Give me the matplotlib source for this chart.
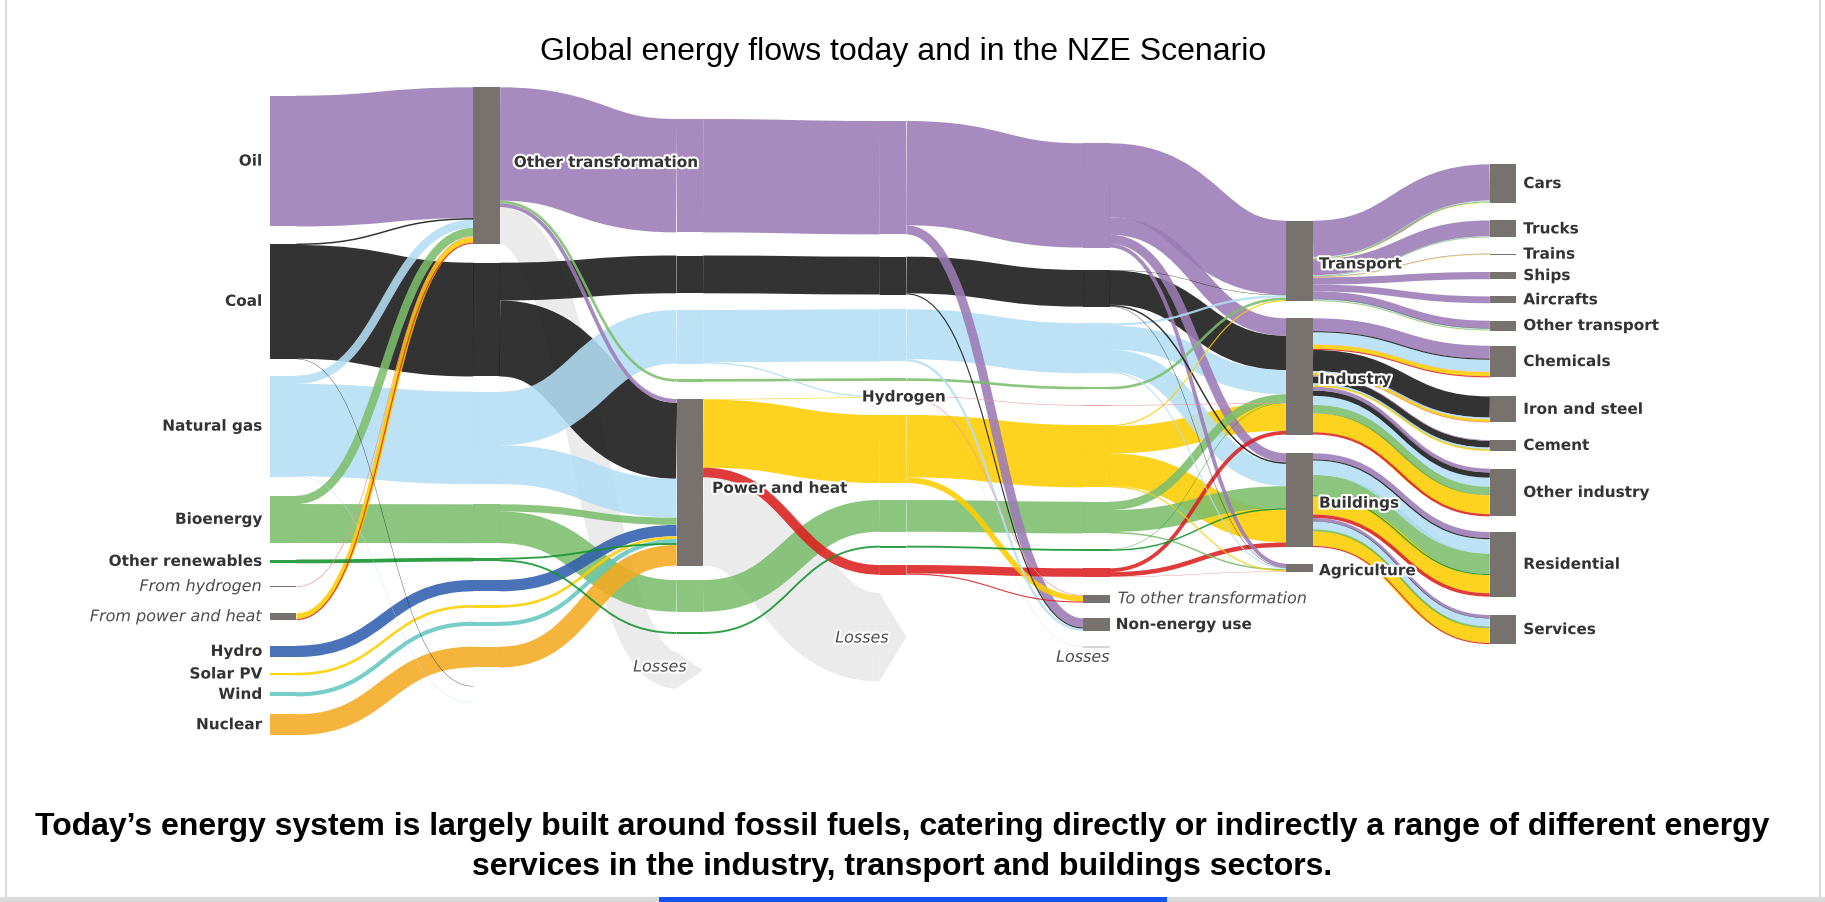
import matplotlib
matplotlib.use("Agg")
import matplotlib.pyplot as plt
import matplotlib.patheffects as pe
from matplotlib.colors import to_rgb
from matplotlib.path import Path
from matplotlib.patches import PathPatch, Rectangle, Polygon
from collections import defaultdict

# Energy flows in EJ: (source, target, value, carrier)
supply = [
    ("Oil", "Other transformation", 173, "oil"),
    ("Coal", "Other transformation", 2, "coal"),
    ("Coal", "coal|1", 150.5, "coal"),
    ("Coal", "coal own use|1", 0.5, "coal"),
    ("Natural gas", "Other transformation", 11, "gas"),
    ("Natural gas", "gas|1", 122.3, "gas"),
    ("Natural gas", "gas own use|1", 0.5, "gas"),
    ("Bioenergy", "Other transformation", 11, "bio"),
    ("Bioenergy", "bio|1", 51.5, "bio"),
    ("Other renewables", "ren|1", 5, "ren"),
    ("From hydrogen", "Other transformation", 1, "h2"),
    ("From power and heat", "Other transformation", 7.5, "elec"),
    ("From power and heat", "Other transformation", 1.5, "heat"),
    ("Hydro", "hydro|1", 15, "hydro"),
    ("Solar PV", "solar|1", 3.5, "solar"),
    ("Wind", "wind|1", 5.5, "wind"),
    ("Nuclear", "nuclear|1", 27.5, "nuclear"),
]

transformation = [
    ("Other transformation", "oil|2", 150, "oil"),
    ("Other transformation", "Power and heat", 5, "oil"),
    ("Other transformation", "biofuel|2", 3.5, "bio"),
    ("Other transformation", "loss OT|2", 48.5, "loss"),
    ("coal|1", "coal|2", 50, "coal"),
    ("coal|1", "Power and heat", 100.5, "coal"),
    ("gas|1", "gas|2", 70.8, "gas"),
    ("gas|1", "Power and heat", 51.5, "gas"),
    ("bio|1", "Power and heat", 9.5, "bio"),
    ("bio|1", "bio|2", 42, "bio"),
    ("ren|1", "Power and heat", 2.5, "ren"),
    ("ren|1", "ren|2", 2.5, "ren"),
    ("hydro|1", "Power and heat", 15, "hydro"),
    ("solar|1", "Power and heat", 3.5, "solar"),
    ("wind|1", "Power and heat", 5.5, "wind"),
    ("nuclear|1", "Power and heat", 27.5, "nuclear"),
]

power = [
    ("oil|2", "oil|3", 150, "oil"),
    ("coal|2", "coal|3", 50, "coal"),
    ("gas|2", "gas|3", 69, "gas"),
    ("gas|2", "Hydrogen", 1.8, "gas"),
    ("biofuel|2", "biofuel|3", 3.5, "bio"),
    ("Power and heat", "Hydrogen", 0.8, "elec"),
    ("Power and heat", "elec|3", 90, "elec"),
    ("Power and heat", "heat|3", 12.8, "heat"),
    ("Power and heat", "loss PH|3", 116.9, "loss"),
    ("bio|2", "bio|3", 42, "bio"),
    ("ren|2", "ren|3", 2.5, "ren"),
]

final_use = [
    ("oil|3", "oil|4", 138, "oil"),
    ("oil|3", "Non-energy use", 12, "oil"),
    ("coal|3", "coal|4", 48.5, "coal"),
    ("coal|3", "Non-energy use", 1.5, "coal"),
    ("gas|3", "gas|4", 66, "gas"),
    ("gas|3", "Non-energy use", 3, "gas"),
    ("biofuel|3", "biofuel|4", 3.5, "bio"),
    ("Hydrogen", "h2|4", 0.8, "h2"),
    ("Hydrogen", "To other transformation", 1, "h2"),
    ("Hydrogen", "Losses", 0.8, "loss"),
    ("elec|3", "elec|4", 82.5, "elec"),
    ("elec|3", "To other transformation", 7.5, "elec"),
    ("bio|3", "bio|4", 42, "bio"),
    ("ren|3", "ren|4", 2.5, "ren"),
    ("heat|3", "heat|4", 11.3, "heat"),
    ("heat|3", "To other transformation", 1.5, "heat"),
]

sectors = [
    ("oil|4", "Transport", 98, "oil"), ("oil|4", "Industry", 23, "oil"),
    ("oil|4", "Buildings", 12, "oil"), ("oil|4", "Agriculture", 5, "oil"),
    ("coal|4", "Transport", 0.5, "coal"), ("coal|4", "Industry", 45.5, "coal"),
    ("coal|4", "Buildings", 2, "coal"), ("coal|4", "Agriculture", 0.5, "coal"),
    ("gas|4", "Transport", 3, "gas"), ("gas|4", "Industry", 32, "gas"),
    ("gas|4", "Buildings", 29.5, "gas"), ("gas|4", "Agriculture", 1.5, "gas"),
    ("biofuel|4", "Transport", 3.5, "bio"),
    ("h2|4", "Industry", 0.8, "h2"),
    ("elec|4", "Transport", 1.5, "elec"), ("elec|4", "Industry", 36, "elec"),
    ("elec|4", "Buildings", 43.5, "elec"), ("elec|4", "Agriculture", 1.5, "elec"),
    ("bio|4", "Industry", 11, "bio"), ("bio|4", "Buildings", 29, "bio"),
    ("bio|4", "Agriculture", 2, "bio"),
    ("ren|4", "Industry", 0.5, "ren"), ("ren|4", "Buildings", 2, "ren"),
    ("heat|4", "Industry", 5, "heat"), ("heat|4", "Buildings", 6, "heat"),
    ("heat|4", "Agriculture", 0.3, "heat"),
]

end_uses = [
    ("Transport", "Cars", 48, "oil"), ("Transport", "Cars", 1, "gas"),
    ("Transport", "Cars", 1.5, "bio"), ("Transport", "Cars", 0.5, "elec"),
    ("Transport", "Trucks", 21, "oil"), ("Transport", "Trucks", 0.5, "gas"),
    ("Transport", "Trucks", 1, "bio"),
    ("Transport", "Trains", 0.7, "oil"), ("Transport", "Trains", 0.8, "elec"),
    ("Transport", "Ships", 9.5, "oil"),
    ("Transport", "Aircrafts", 9, "oil"),
    ("Transport", "Other transport", 9.8, "oil"), ("Transport", "Other transport", 0.5, "coal"),
    ("Transport", "Other transport", 1.5, "gas"), ("Transport", "Other transport", 1, "bio"),
    ("Transport", "Other transport", 0.2, "elec"),
    ("Industry", "Chemicals", 17, "oil"), ("Industry", "Chemicals", 1.5, "coal"),
    ("Industry", "Chemicals", 16, "gas"), ("Industry", "Chemicals", 0.4, "h2"),
    ("Industry", "Chemicals", 5.5, "elec"), ("Industry", "Chemicals", 1.5, "heat"),
    ("Industry", "Iron and steel", 28, "coal"), ("Industry", "Iron and steel", 2, "gas"),
    ("Industry", "Iron and steel", 0.2, "h2"), ("Industry", "Iron and steel", 3.5, "elec"),
    ("Industry", "Iron and steel", 0.5, "heat"),
    ("Industry", "Cement", 1, "oil"), ("Industry", "Cement", 9, "coal"),
    ("Industry", "Cement", 2, "gas"), ("Industry", "Cement", 0.5, "bio"),
    ("Industry", "Cement", 2, "elec"),
    ("Industry", "Other industry", 5, "oil"), ("Industry", "Other industry", 7, "coal"),
    ("Industry", "Other industry", 12, "gas"), ("Industry", "Other industry", 10.5, "bio"),
    ("Industry", "Other industry", 0.5, "ren"), ("Industry", "Other industry", 0.2, "h2"),
    ("Industry", "Other industry", 25, "elec"), ("Industry", "Other industry", 3, "heat"),
    ("Buildings", "Residential", 8, "oil"), ("Buildings", "Residential", 1.5, "coal"),
    ("Buildings", "Residential", 19, "gas"), ("Buildings", "Residential", 27, "bio"),
    ("Buildings", "Residential", 1.5, "ren"), ("Buildings", "Residential", 24, "elec"),
    ("Buildings", "Residential", 4.5, "heat"),
    ("Buildings", "Services", 4, "oil"), ("Buildings", "Services", 0.5, "coal"),
    ("Buildings", "Services", 10.5, "gas"), ("Buildings", "Services", 2, "bio"),
    ("Buildings", "Services", 0.5, "ren"), ("Buildings", "Services", 19.5, "elec"),
    ("Buildings", "Services", 1.5, "heat"),
]

# Node layout: column index and top edge (pixels)
LAYOUT = {
    "Oil": (0, 95.7), "Coal": (0, 243.5), "Natural gas": (0, 375.6),
    "Bioenergy": (0, 495.7), "Other renewables": (0, 559.5),
    "From hydrogen": (0, 586.2), "From power and heat": (0, 613.3),
    "Hydro": (0, 645.7), "Solar PV": (0, 672.7), "Wind": (0, 692.3), "Nuclear": (0, 714.3),
    "Other transformation": (1, 87.3), "coal|1": (1, 262.7), "gas|1": (1, 391.7),
    "bio|1": (1, 504.3), "ren|1": (1, 557.7), "hydro|1": (1, 580), "solar|1": (1, 605),
    "wind|1": (1, 621.7), "nuclear|1": (1, 646.7), "coal own use|1": (1, 686),
    "gas own use|1": (1, 702.5),
    "oil|2": (2, 119), "coal|2": (2, 255.5), "gas|2": (2, 310), "biofuel|2": (2, 379),
    "Power and heat": (2, 399), "bio|2": (2, 580), "ren|2": (2, 632), "loss OT|2": (2, 652),
    "oil|3": (3, 121), "coal|3": (3, 256.7), "gas|3": (3, 309.3), "biofuel|3": (3, 378.3),
    "Hydrogen": (3, 396), "elec|3": (3, 415), "bio|3": (3, 500), "ren|3": (3, 545.7),
    "heat|3": (3, 565), "loss PH|3": (3, 593),
    "oil|4": (4, 143.3), "coal|4": (4, 270), "gas|4": (4, 323.3), "biofuel|4": (4, 386.7),
    "h2|4": (4, 405), "elec|4": (4, 425), "bio|4": (4, 501.7), "ren|4": (4, 549),
    "heat|4": (4, 568.3), "To other transformation": (4, 595), "Non-energy use": (4, 618.3),
    "Losses": (4, 646.3),
    "Transport": (5, 220.7), "Industry": (5, 318.3), "Buildings": (5, 453.3),
    "Agriculture": (5, 563.6),
    "Cars": (6, 164.3), "Trucks": (6, 220.4), "Trains": (6, 253.6), "Ships": (6, 272),
    "Aircrafts": (6, 296.4), "Other transport": (6, 320.7), "Chemicals": (6, 345.7),
    "Iron and steel": (6, 396.4), "Cement": (6, 440), "Other industry": (6, 468.6),
    "Residential": (6, 532), "Services": (6, 615),
}

FUEL_NODES = {"Oil": "oil", "Coal": "coal", "Natural gas": "gas", "Bioenergy": "bio",
              "Other renewables": "ren", "Hydro": "hydro", "Solar PV": "solar",
              "Wind": "wind", "Nuclear": "nuclear"}

COLORS = {
    "oil": "#a88bbe", "coal": "#333333", "gas": "#bde2f6", "bio": "#8cc67e",
    "hydro": "#4a72b8", "solar": "#ffd500", "wind": "#76cfc7", "ren": "#2e9f45",
    "nuclear": "#f5b53c", "h2": "#f2a2a2", "elec": "#fed300", "heat": "#e03b3b",
    "loss": "#ebebeb",
}
CARRIER_ORDER = ["oil", "coal", "gas", "bio", "hydro", "solar", "wind", "ren",
                 "nuclear", "h2", "elec", "heat", "loss"]
RANK = {c: i for i, c in enumerate(CARRIER_ORDER)}
NODE_GREY = "#77726e"

K = 0.756                 # pixels per EJ
X0, DX, W = 270, 203.3, 26.5
DPI = 100
ALPHA = 0.88


def deep(name):
    # colour that shows as COLORS[name] over white at ALPHA
    return tuple(min(1, max(0, (v - (1 - ALPHA)) / ALPHA)) for v in to_rgb(COLORS[name]))


links = supply + transformation + power + final_use + sectors + end_uses

top = {n: t for n, (c, t) in LAYOUT.items()}
col = {n: c for n, (c, t) in LAYOUT.items()}
xleft = {n: X0 + col[n] * DX for n in LAYOUT}

inflow = defaultdict(float)
outflow = defaultdict(float)
for s, t, v, c in links:
    outflow[s] += v
    inflow[t] += v
height = {n: max(inflow[n], outflow[n]) * K for n in LAYOUT}

# stack link ends on each node
y_out, y_in = {}, {}
for n in LAYOUT:
    outs = sorted([i for i, l in enumerate(links) if l[0] == n],
                  key=lambda i: (top[links[i][1]], RANK[links[i][3]]))
    y = top[n]
    for i in outs:
        y_out[i] = y
        y += links[i][2] * K
    ins = sorted([i for i, l in enumerate(links) if l[1] == n],
                 key=lambda i: (RANK[links[i][3]], top[links[i][0]]))
    y = top[n]
    for i in ins:
        y_in[i] = y
        y += links[i][2] * K

fig = plt.figure(figsize=(18.25, 9.02), dpi=DPI)
ax = fig.add_axes([0, 0, 1, 1])
ax.set_xlim(0, 1825)
ax.set_ylim(902, 0)
ax.axis("off")

# ribbons, widest first so thin lines stay visible
for i in sorted(range(len(links)), key=lambda i: -links[i][2]):
    s, t, v, c = links[i]
    w = v * K
    x0 = xleft[s] + W
    x1 = xleft[t]
    y0 = y_out[i] + w / 2
    y1 = y_in[i] + w / 2
    xm = (x0 + x1) / 2
    path = Path([(x0, y0), (xm, y0), (xm, y1), (x1, y1)],
                [Path.MOVETO, Path.CURVE4, Path.CURVE4, Path.CURVE4])
    if c == "loss":
        style = dict(edgecolor=COLORS[c], alpha=1, zorder=1)
    else:
        style = dict(edgecolor=deep(c), alpha=ALPHA, zorder=2)
    ax.add_patch(PathPatch(path, fill=False, lw=w * 72 / DPI, capstyle="butt", **style))

# nodes
for n in LAYOUT:
    x, y, h = xleft[n], top[n], height[n]
    if n in FUEL_NODES:
        # opaque and slightly overlapping the ribbon start, so no seam shows
        ax.add_patch(Rectangle((x, y), W + 0.8, h, color=COLORS[FUEL_NODES[n]],
                               lw=0, zorder=3))
    elif "|" in n:
        if n.startswith("loss"):
            ax.add_patch(Polygon([(x - 0.5, y), (x + W, y + h / 2), (x - 0.5, y + h)],
                                 closed=True, color=COLORS["loss"], lw=0, zorder=1))
        else:
            carrier = [l[3] for l in links if l[1] == n][0]
            ax.add_patch(Rectangle((x, y), W, h, color=deep(carrier), lw=0,
                                   alpha=ALPHA, zorder=2))
    elif n == "Losses":
        ax.add_patch(Rectangle((x, y), W, max(h, 1.2), color="#d6d6d6", lw=0, zorder=3))
    elif n != "Hydrogen":
        ax.add_patch(Rectangle((x, y), W, max(h, 1.2), color=NODE_GREY, lw=0, zorder=3))

halo = [pe.withStroke(linewidth=3, foreground="white")]
BOLD = dict(fontsize=11, fontweight="bold", color="#333333", va="center",
            family="DejaVu Sans", path_effects=halo, zorder=6)
ITAL = dict(fontsize=11.5, style="italic", color="#4d4d4d", va="center",
            family="DejaVu Sans", path_effects=halo, zorder=6)


def mid(n):
    return top[n] + height[n] / 2


for n in ["Oil", "Coal", "Natural gas", "Bioenergy", "Other renewables",
          "Hydro", "Solar PV", "Wind", "Nuclear"]:
    ax.text(X0 - 8, mid(n), n, ha="right", **BOLD)
for n in ["From hydrogen", "From power and heat"]:
    ax.text(X0 - 8, mid(n), n, ha="right", **ITAL)

ax.text(xleft["Other transformation"] + W + 14, mid("Other transformation") - 3,
        "Other transformation", ha="left", **BOLD)
ax.text(xleft["Power and heat"] + W + 9, mid("Power and heat") + 6,
        "Power and heat", ha="left", **BOLD)
ax.text(xleft["Hydrogen"] - 18, 397, "Hydrogen", ha="left", **BOLD)
for n in ["Transport", "Industry", "Buildings", "Agriculture"]:
    ax.text(xleft[n] + W + 6, mid(n) + 3, n, ha="left", **BOLD)
for n in ["Cars", "Trucks", "Trains", "Ships", "Aircrafts", "Other transport",
          "Chemicals", "Iron and steel", "Cement", "Other industry",
          "Residential", "Services"]:
    ax.text(xleft[n] + W + 7, mid(n), n, ha="left", **BOLD)
ax.text(xleft["Non-energy use"] + W + 6, mid("Non-energy use"), "Non-energy use",
        ha="left", **BOLD)
ax.text(xleft["To other transformation"] + W + 8, mid("To other transformation"),
        "To other transformation", ha="left", **ITAL)
ax.text(xleft["Losses"] + W, top["Losses"] + 11, "Losses", ha="right", **ITAL)
ax.text(660, 667, "Losses", ha="center", **ITAL)
ax.text(862, 638, "Losses", ha="center", **ITAL)

ax.text(903, 52, "Global energy flows today and in the NZE Scenario", ha="center",
        va="center", fontsize=23, family="Liberation Sans", color="black")
ax.text(902, 827, "Today\u2019s energy system is largely built around fossil fuels, catering "
        "directly or indirectly a range of different energy", ha="center", va="center",
        fontsize=23, fontweight="bold", family="Liberation Sans", color="black")
ax.text(902, 867, "services in the industry, transport and buildings sectors.",
        ha="center", va="center", fontsize=23, fontweight="bold",
        family="Liberation Sans", color="black")

# page frame
ax.plot([6, 6], [0, 898], color="#dadada", lw=1.5)
ax.plot([1820, 1820], [0, 898], color="#dadada", lw=1.5)
ax.add_patch(Rectangle((0, 897), 1825, 5, color="#dadada", lw=0))
ax.add_patch(Rectangle((659, 896.5), 508, 5.5, color="#1652f0", lw=0))

fig.savefig("out.png", dpi=DPI)
